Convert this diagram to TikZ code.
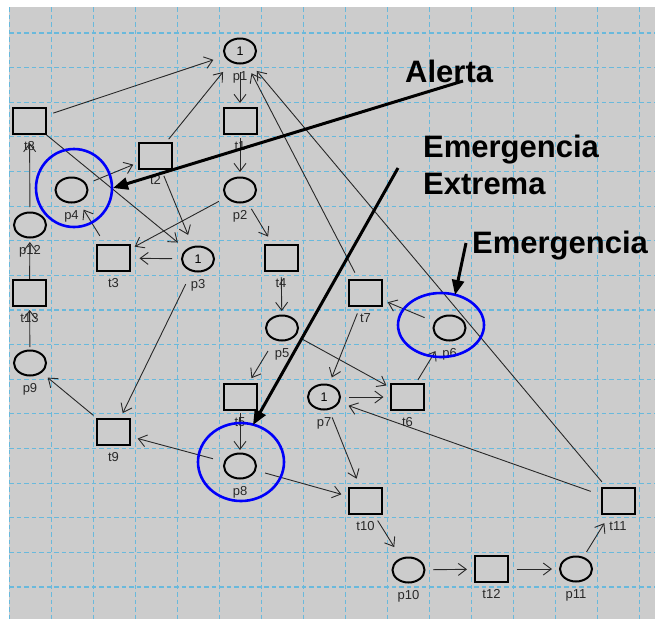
\documentclass[tikz,border=0pt]{standalone}
\usepackage{fontspec}
\setmainfont{Liberation Sans}
\usetikzlibrary{shapes.geometric,arrows.meta}
\definecolor{canvas}{RGB}{204,204,204}
\definecolor{gridblue}{RGB}{105,185,220}
\definecolor{arcgray}{RGB}{40,40,40}
\definecolor{ringblue}{RGB}{0,0,250}
\pgfdeclarelayer{back}
\pgfdeclarelayer{mid}
\pgfsetlayers{back,mid,main}

\begin{document}
\begin{tikzpicture}[x=1pt,y=-1pt,
  place/.style={ellipse, draw=black, line width=2pt, fill=canvas,
    minimum width=32pt, minimum height=25pt, inner sep=0pt,
    font=\fontsize{12.5}{14}\selectfont},
  trans/.style={rectangle, draw=black, line width=2pt, fill=canvas,
    minimum width=33pt, minimum height=26pt, inner sep=0pt},
  tag/.style={anchor=base, inner sep=0pt, text=arcgray,
    font=\fontsize{13}{15}\selectfont},
  gridline/.style={draw=gridblue, line width=1.1pt, dash pattern=on 4.5pt off 3pt},
  arcline/.style={draw=arcgray, line width=0.9pt,
    -{Straight Barb[length=8pt,width=12pt]},
    shorten <=24pt, shorten >=24pt},
  ring/.style={draw=ringblue, line width=2.6pt},
  callout/.style={draw=black, line width=3pt,
    -{Triangle[length=15pt,width=12pt]}},
  calltext/.style={anchor=base west, inner sep=0pt,
    font=\fontsize{31}{37}\selectfont\bfseries},
]
\useasboundingbox (0,0) rectangle (655,619);

% canvas and dashed grid
\begin{pgfonlayer}{back}
  \fill[white] (0,0) rectangle (655,619);
  \fill[canvas] (9,7) rectangle (655,619);
  \foreach \k in {0,...,15}
    \draw[gridline] (9.3+42*\k,7) -- (9.3+42*\k,619);
  \foreach \k in {0,...,16}
    \draw[gridline] (9,33+34.625*\k) -- (655,33+34.625*\k);
\end{pgfonlayer}

% places with their tokens and names
\foreach \n/\px/\py/\tok in {
    p1/240/51/1, p2/240/190/{}, p3/198/259/1, p4/71.5/190/{},
    p5/282/328/{}, p6/449.5/328/{}, p7/324/397/1, p8/240/466/{},
    p9/30/363/{}, p10/408.5/570/{}, p11/576/569/{}, p12/30/225/{}}{
  \node[place] (\n) at (\px,\py) {\tok};
  \node[tag] (\n-tag) at (\px,\py+29) {\n};
}

% transitions and their names
\foreach \n/\px/\py in {
    t1/240/121, t2/155.5/155.5, t3/113.5/258, t4/281/258,
    t5/240/397, t6/407.5/397, t7/365.5/293, t8/29.5/121,
    t9/113.5/432, t10/365.5/501, t11/618/501, t12/491.5/569,
    t13/29.5/293}{
  \node[trans] (\n) at (\px,\py) {};
  \node[tag] (\n-tag) at (\px,\py+29) {\n};
}

% arcs of the net
\begin{pgfonlayer}{mid}
  \draw[arcline, shorten <=25pt, shorten >=28pt] (t8.center) -- (p1.center);
  \draw[arcline, shorten <=21pt, shorten >=18pt] (p1.center) -- (t1.center);
  \draw[arcline, shorten <=21pt, shorten >=27pt] (t2.center) -- (p1.center);
  \draw[arcline, shorten <=17pt, shorten >=18pt] (t1.center) -- (p2.center);
  \draw[arcline] (p4.center) -- (t2.center);
  \draw[arcline, shorten <=22pt, shorten >=26pt] (t8.center) -- (p3.center);
  \draw[arcline, shorten <=22pt, shorten >=26pt] (t2.center) -- (p3.center);
  \draw[arcline] (p2.center) -- (t3.center);
  \draw[arcline, shorten <=26pt, shorten >=26pt] (p3.center) -- (t3.center);
  \draw[arcline, shorten <=26pt, shorten >=23pt] (t3.center) -- (p4.center);
  \draw[arcline, shorten <=22pt, shorten >=25pt] (p2.center) -- (t4.center);
  \draw[arcline, shorten <=19pt, shorten >=17pt] (t4.center) -- (p5.center);
  \draw[arcline, shorten <=18pt, shorten >=22pt] (p12.center) -- (t8.center);
  \draw[arcline, shorten <=14pt, shorten >=17pt] (t13.center) -- (p12.center);
  \draw[arcline, shorten <=16pt, shorten >=17pt] (p9.center) -- (t13.center);
  \draw[arcline, shorten <=26pt, shorten >=23pt] (t9.center) -- (p9.center);
  \draw[arcline, shorten <=28pt, shorten >=21pt] (p3.center) -- (t9.center);
  \draw[arcline, shorten <=28pt, shorten >=25pt] (p8.center) -- (t9.center);
  \draw[arcline, shorten <=27pt, shorten >=22pt] (p5.center) -- (t5.center);
  \draw[arcline, shorten <=16pt, shorten >=16pt] (t5.center) -- (p8.center);
  \draw[arcline, shorten <=26pt, shorten >=25pt] (p8.center) -- (t10.center);
  \draw[arcline, shorten <=22pt, shorten >=24pt] (p7.center) -- (t10.center);
  \draw[arcline, shorten <=23pt, shorten >=27pt] (t10.center) -- (p10.center);
  \draw[arcline, shorten <=24.5pt, shorten >=24.5pt] (p10.center) -- (t12.center);
  \draw[arcline, shorten <=25pt, shorten >=24pt] (t12.center) -- (p11.center);
  \draw[arcline, shorten <=20pt, shorten >=26pt] (p11.center) -- (t11.center);
  \draw[arcline, shorten <=29pt, shorten >=26pt] (t11.center) -- (p7.center);
  \draw[arcline, shorten <=25pt, shorten >=26pt] (t11.center) -- (p1.center);
  \draw[arcline, shorten <=23pt, shorten >=25pt] (t7.center) -- (p1.center);
  \draw[arcline, shorten <=27pt, shorten >=24pt] (p6.center) -- (t7.center);
  \draw[arcline, shorten <=22pt, shorten >=21pt] (t7.center) -- (p7.center);
  \draw[arcline, shorten <=25pt, shorten >=24pt] (p7.center) -- (t6.center);
  \draw[arcline, shorten <=20pt, shorten >=27pt] (t6.center) -- (p6.center);
  \draw[arcline, shorten <=21pt, shorten >=24pt] (p5.center) -- (t6.center);
\end{pgfonlayer}

% highlighted places
\draw[ring] (74,188) ellipse [x radius=38pt, y radius=39pt];
\draw[ring] (441,325) ellipse [x radius=43pt, y radius=32pt];
\draw[ring] (241,462) ellipse [x radius=43pt, y radius=39pt];

% callouts
\node[calltext] (alert-text) at (405,82) {Alerta};
\node[calltext] (extreme-text1) at (423,157) {Emergencia};
\node[calltext] (extreme-text2) at (423,194) {Extrema};
\node[calltext] (emerg-text) at (472,253) {Emergencia};

\coordinate (alert-tail) at (463,81);
\coordinate (alert-tip) at (113,188);
\coordinate (extreme-tail) at (398,168);
\coordinate (extreme-tip) at (253,425);
\coordinate (emerg-tail) at (466,243);
\coordinate (emerg-tip) at (455,295);

\draw[callout] (alert-tail) -- (alert-tip);
\draw[callout] (extreme-tail) -- (extreme-tip);
\draw[callout] (emerg-tail) -- (emerg-tip);
\end{tikzpicture}
\end{document}
